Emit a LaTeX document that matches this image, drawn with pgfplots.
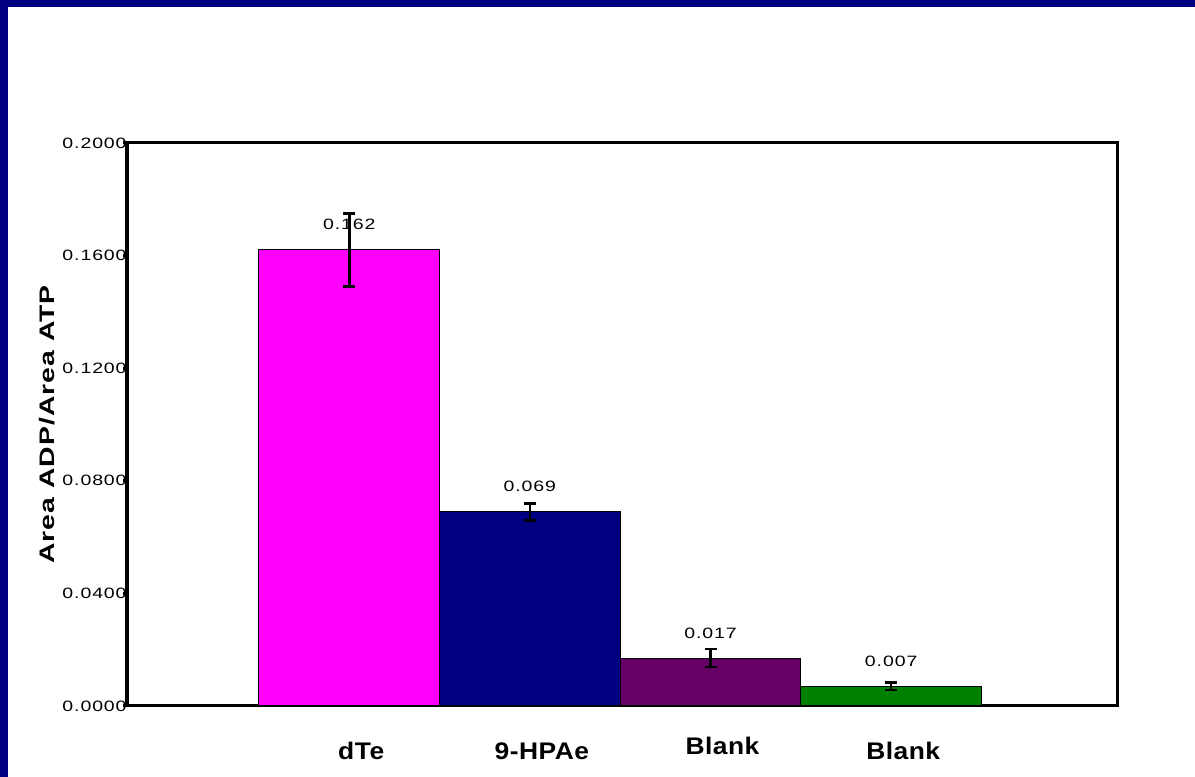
\documentclass[border=0pt]{standalone}
\usepackage{pgfplots}
\pgfplotsset{compat=1.18}
\usepackage{fontspec}
\setmainfont{Liberation Sans}
\newfontfamily\tickf[FakeStretch=1.3,LetterSpace=6]{Liberation Sans}
\newfontfamily\ylabf[FakeStretch=1.35,LetterSpace=5]{Liberation Sans}
\newfontfamily\xlabf[FakeStretch=1.1,LetterSpace=2]{Liberation Sans}
\definecolor{frameblue}{HTML}{000080}
\definecolor{cmag}{HTML}{FF00FF}
\definecolor{cnavy}{HTML}{000080}
\definecolor{cpurp}{HTML}{660066}
\definecolor{cgreen}{HTML}{008000}
\begin{document}
\begin{tikzpicture}[x=1pt,y=1pt]
\fill[frameblue] (0,0) rectangle (597.5,388.5);
\fill[white] (4,0) rectangle (597.5,385);
\begin{axis}[
  at={(63.5pt,35.5pt)}, anchor=south west,
  scale only axis, width=495pt, height=281.5pt,
  xmin=-0.23, xmax=5.25, ymin=0, ymax=0.2,
  clip=false,
  ybar, bar width=90.25pt, bar shift=0pt,
  axis line style={line width=1.5pt},
  xtick={1,2,3,4},
  xticklabels={dTe,9-HPAe,\raisebox{2.5pt}{Blank},Blank},
  xtick style={draw=none},
  xticklabel style={font=\xlabf\bfseries\fontsize{12}{14}\selectfont, anchor=base, inner sep=0pt, yshift=-24.5pt, xshift=6pt},
  ytick={0,0.04,0.08,0.12,0.16,0.2},
  yticklabels={0.0000,0.0400,0.0800,0.1200,0.1600,0.2000},
  ytick pos=left,
  tick align=outside,
  major tick length=2pt,
  ytick style={line width=1.5pt, black},
  yticklabel style={font=\tickf\fontsize{7.5}{9}\selectfont, anchor=east, inner sep=0pt, xshift=2pt},
  ylabel={\ylabf\bfseries\fontsize{10.5}{12}\selectfont Area ADP/Area ATP},
  ylabel style={at={(axis description cs:-0.0808,0.5)}, anchor=center},
  nodes near coords,
  every node near coord/.append style={font=\tickf\fontsize{7.5}{9}\selectfont, anchor=base, inner sep=0pt, yshift=10pt, black,
    /pgf/number format/fixed, /pgf/number format/precision=3, /pgf/number format/zerofill,
    /pgf/number format/assume math mode=true},
  error bars/y dir=both, error bars/y explicit,
  error bars/error bar style={line width=1.3pt, black},
  error bars/error mark options={rotate=90, mark size=3pt, line width=1.3pt, black},
]
\addplot[fill=cmag, draw=black, line width=0.5pt] coordinates {(1,0.162) +- (0,0.013)};
\addplot[fill=cnavy, draw=black, line width=0.5pt] coordinates {(2,0.069) +- (0,0.003)};
\addplot[fill=cpurp, draw=black, line width=0.5pt] coordinates {(3,0.017) +- (0,0.0032)};
\addplot[fill=cgreen, draw=black, line width=0.5pt] coordinates {(4,0.007) +- (0,0.0013)};
\end{axis}
\end{tikzpicture}
\end{document}
